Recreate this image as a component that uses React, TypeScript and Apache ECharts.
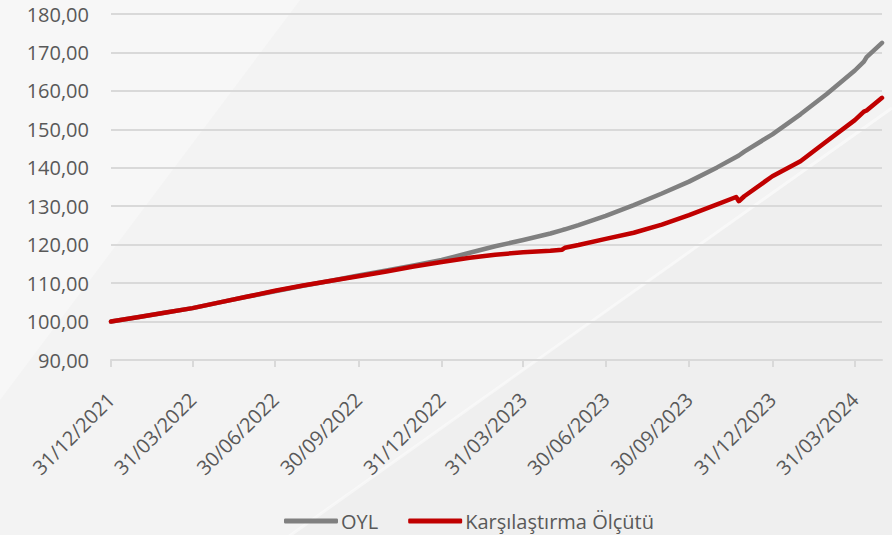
import React, { useEffect, useRef } from "react";
import * as echarts from "echarts";

const dates: string[] = [
  "2021-12-31", "2022-01-31", "2022-02-28", "2022-03-31", "2022-04-30", "2022-05-31",
  "2022-06-30", "2022-07-31", "2022-08-31", "2022-09-30", "2022-10-31", "2022-11-30",
  "2022-12-31", "2023-01-31", "2023-02-28", "2023-03-31", "2023-04-30", "2023-05-13",
  "2023-05-16", "2023-05-31", "2023-06-30", "2023-07-31", "2023-08-31", "2023-09-30",
  "2023-10-31", "2023-11-21", "2023-11-24", "2023-11-30", "2023-12-31", "2024-01-31",
  "2024-02-29", "2024-03-31", "2024-04-10", "2024-04-13", "2024-04-30",
];

const oyl: number[] = [
  100.0, 101.2, 102.3, 103.5, 105.0, 106.5,
  107.9, 109.3, 110.6, 112.0, 113.3, 114.6,
  116.0, 117.9, 119.6, 121.2, 122.9, 123.8,
  124.0, 125.1, 127.5, 130.3, 133.3, 136.4,
  140.1, 142.8, 143.2, 144.2, 148.7, 153.9,
  159.2, 165.3, 167.6, 168.8, 172.5,
];

const benchmark: number[] = [
  100.0, 101.2, 102.3, 103.5, 105.0, 106.5,
  108.0, 109.4, 110.6, 111.8, 113.0, 114.3,
  115.5, 116.6, 117.4, 118.0, 118.4, 118.7,
  119.2, 119.9, 121.5, 123.1, 125.2, 127.7,
  130.5, 132.4, 131.3, 132.6, 137.8, 141.7,
  146.9, 152.4, 154.6, 154.9, 158.2,
];

const tickDates: string[] = [
  "2021-12-31", "2022-03-31", "2022-06-30", "2022-09-30", "2022-12-31",
  "2023-03-31", "2023-06-30", "2023-09-30", "2023-12-31", "2024-03-31",
];

const seriesNames = ["OYL", "Karşılaştırma Ölçütü"];

const toTs = (s: string) => {
  const [y, m, d] = s.split("-").map(Number);
  return Date.UTC(y, m - 1, d);
};
const pad = (n: number) => (n < 10 ? "0" + n : "" + n);
const fmtDate = (v: number) => {
  const d = new Date(v);
  return pad(d.getUTCDate()) + "/" + pad(d.getUTCMonth() + 1) + "/" + d.getUTCFullYear();
};

const FONT = "Open Sans";
const TEXT = "#595959";

export default function App() {
  const ref = useRef<HTMLDivElement>(null);
  useEffect(() => {
    if (!ref.current) return;
    const chart = echarts.init(ref.current, undefined, { renderer: "svg" });
    const tickTs = tickDates.map(toTs);
    chart.setOption({
      animation: false,
      backgroundColor: "#f3f3f3",
      graphic: [
        {
          type: "polygon",
          z: -10,
          silent: true,
          shape: { points: [[0, 0], [300, 0], [0, 400]] },
          style: { fill: "#f7f7f7" },
        },
        {
          type: "polygon",
          z: -10,
          silent: true,
          shape: { points: [[892, 110], [892, 535], [290, 535]] },
          style: { fill: "#efefef" },
        },
        {
          type: "line",
          z: -9,
          silent: true,
          shape: { x1: 892, y1: 108, x2: 288, y2: 537 },
          style: { stroke: "rgba(255,255,255,0.45)", lineWidth: 3 },
        },
      ],
      grid: { left: 111, right: 10, top: 14, bottom: 175, containLabel: false },
      legend: {
        left: 279,
        top: 506,
        itemWidth: 54,
        itemHeight: 5,
        itemGap: 30,
        icon: "roundRect",
        textStyle: { fontFamily: FONT, fontSize: 20, color: TEXT, padding: [0, 0, 0, -2] },
        data: seriesNames,
      },
      xAxis: {
        type: "value",
        min: toTs(dates[0]),
        max: toTs(dates[dates.length - 1]),
        axisLine: { show: true, lineStyle: { color: "#d9d9d9", width: 2 } },
        axisTick: {
          show: true,
          customValues: tickTs,
          length: 7,
          lineStyle: { color: "#d9d9d9", width: 2 },
        },
        axisLabel: {
          customValues: tickTs,
          rotate: 45,
          margin: 36,
          showMinLabel: true,
          showMaxLabel: true,
          formatter: (v: number) => fmtDate(v),
          fontFamily: FONT,
          fontSize: 20,
          color: TEXT,
        },
        splitLine: { show: false },
      },
      yAxis: {
        type: "value",
        min: 90,
        max: 180,
        interval: 10,
        axisLine: { show: false },
        axisTick: { show: false },
        axisLabel: {
          margin: 22,
          formatter: (v: number) => v.toFixed(2).replace(".", ","),
          fontFamily: FONT,
          fontSize: 20,
          color: TEXT,
        },
        splitLine: { lineStyle: { color: "#d9d9d9", width: 2 } },
      },
      series: [
        {
          name: seriesNames[0],
          type: "line",
          data: dates.map((d, i) => [toTs(d), oyl[i]]),
          symbol: "none",
          lineStyle: { color: "#808080", width: 4.5, cap: "round", join: "round" },
          itemStyle: { color: "#808080" },
        },
        {
          name: seriesNames[1],
          type: "line",
          data: dates.map((d, i) => [toTs(d), benchmark[i]]),
          symbol: "none",
          lineStyle: { color: "#c00000", width: 4.5, cap: "round", join: "round" },
          itemStyle: { color: "#c00000" },
        },
      ],
    });
    return () => chart.dispose();
  }, []);
  return (
    <div
      ref={ref}
      style={{ position: "fixed", left: 0, top: 0, width: 892, height: 535 }}
    />
  );
}
